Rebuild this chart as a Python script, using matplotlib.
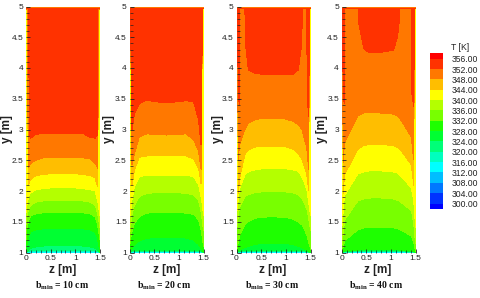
import numpy as np
import matplotlib
matplotlib.use("Agg")
import matplotlib.pyplot as plt
from matplotlib.ticker import MultipleLocator

levels = list(range(300, 360, 4))
band_colors = ['#0000ff', '#0032ff', '#0078ff', '#00beff', '#00ffff', '#00ffbe', '#00ff78', '#00ff32',
               '#1eff00', '#78ff00', '#b4ff00', '#ffff00', '#ffbe00', '#ff7800', '#ff3200', '#ff0000']

panel_titles = ['10 cm', '20 cm', '30 cm', '40 cm']

# isotherm temperature of every row in the tables below (bottom to top of the duct)
row_temps = [316, 320, 324, 328, 332, 336, 340, 344, 348, 352]
bottom_y, bottom_temp = 1.0, 312.5
under_top_y, under_top_temp = 4.96, 354
top_y = 5.0
top_temps = [346, 346, 343, 343]

# z stations and isotherm heights y [m]
z1 = [0, .02, .05, .07, .1, .2, .35, .5, .75, 1.0, 1.15, 1.3, 1.4, 1.44, 1.45, 1.48, 1.5]
y1 = [
    [1.0, 1.005, 1.01, 1.012, 1.015, 1.015, 1.015, 1.015, 1.015, 1.015, 1.015, 1.015, 1.015, 1.01, 1.01, 1.005, 1.0],
    [1.0, 1.01, 1.02, 1.025, 1.03, 1.035, 1.04, 1.04, 1.04, 1.04, 1.04, 1.035, 1.03, 1.02, 1.02, 1.01, 1.0],
    [1.0, 1.02, 1.04, 1.055, 1.07, 1.09, 1.105, 1.11, 1.11, 1.11, 1.105, 1.09, 1.07, 1.045, 1.04, 1.02, 1.0],
    [1.02, 1.12, 1.25, 1.30, 1.34, 1.37, 1.385, 1.39, 1.39, 1.39, 1.385, 1.37, 1.33, 1.25, 1.22, 1.1, 1.02],
    [1.2, 1.39, 1.5, 1.56, 1.6, 1.63, 1.645, 1.65, 1.65, 1.65, 1.645, 1.63, 1.58, 1.48, 1.45, 1.3, 1.2],
    [1.45, 1.58, 1.69, 1.74, 1.77, 1.82, 1.84, 1.85, 1.85, 1.85, 1.84, 1.82, 1.77, 1.67, 1.64, 1.5, 1.4],
    [1.65, 1.77, 1.9, 1.94, 1.97, 2.02, 2.04, 2.05, 2.05, 2.05, 2.04, 2.02, 2.0, 1.88, 1.85, 1.7, 1.6],
    [4.96, 4.96, 2.10, 2.15, 2.19, 2.25, 2.27, 2.28, 2.28, 2.28, 2.27, 2.25, 2.21, 2.1, 2.07, 4.96, 4.96],
    [4.96, 4.96, 2.38, 2.42, 2.45, 2.50, 2.54, 2.55, 2.55, 2.55, 2.54, 2.52, 2.45, 2.39, 2.37, 4.96, 4.96],
    [4.96, 4.96, 4.96, 2.9, 2.86, 2.92, 2.94, 2.94, 2.94, 2.94, 2.94, 2.87, 2.86, 2.9, 4.96, 4.96, 4.96],
]

z2 = [0, .02, .05, .1, .2, .35, .5, .75, 1.0, 1.15, 1.3, 1.4, 1.45, 1.48, 1.5]
y2 = [
    [1.0, 1.005, 1.01, 1.012, 1.012, 1.012, 1.012, 1.012, 1.012, 1.012, 1.012, 1.012, 1.01, 1.005, 1.0],
    [1.0, 1.01, 1.015, 1.02, 1.02, 1.02, 1.02, 1.02, 1.02, 1.02, 1.02, 1.02, 1.015, 1.01, 1.0],
    [1.0, 1.015, 1.025, 1.03, 1.035, 1.04, 1.04, 1.04, 1.04, 1.04, 1.035, 1.03, 1.025, 1.015, 1.0],
    [1.01, 1.03, 1.07, 1.12, 1.19, 1.23, 1.245, 1.25, 1.245, 1.235, 1.2, 1.13, 1.07, 1.03, 1.01],
    [1.1, 1.2, 1.34, 1.47, 1.58, 1.64, 1.65, 1.65, 1.65, 1.64, 1.62, 1.53, 1.37, 1.22, 1.1],
    [1.3, 1.39, 1.61, 1.77, 1.91, 1.96, 1.97, 1.97, 1.97, 1.96, 1.94, 1.85, 1.66, 1.5, 1.35],
    [1.55, 1.64, 1.85, 2.07, 2.23, 2.26, 2.26, 2.26, 2.26, 2.26, 2.23, 2.10, 1.91, 1.75, 1.6],
    [4.96, 4.96, 2.10, 2.34, 2.55, 2.57, 2.57, 2.57, 2.57, 2.57, 2.52, 2.37, 2.12, 4.96, 4.96],
    [4.96, 4.96, 2.42, 2.6, 2.88, 2.93, 2.92, 2.91, 2.92, 2.93, 2.83, 2.65, 2.35, 4.96, 4.96],
    [4.96, 4.96, 3.0, 3.25, 3.42, 3.48, 3.45, 3.44, 3.45, 3.47, 3.45, 3.15, 2.75, 4.96, 4.96],
]

z3 = [0, .02, .035, .055, .065, .17, .18, .24, .35, .5, .75, 1.0, 1.15, 1.25, 1.32, 1.33, 1.42, 1.43, 1.46, 1.475, 1.5]
y3 = [
    [1.0, 1.003, 1.005, 1.007, 1.008, 1.01, 1.01, 1.011, 1.012, 1.012, 1.012, 1.012, 1.012, 1.01, 1.01, 1.01, 1.007, 1.006, 1.004, 1.002, 1.0],
    [1.0, 1.006, 1.009, 1.012, 1.014, 1.018, 1.018, 1.019, 1.02, 1.02, 1.02, 1.02, 1.02, 1.018, 1.018, 1.018, 1.012, 1.011, 1.008, 1.005, 1.0],
    [1.0, 1.01, 1.014, 1.018, 1.02, 1.03, 1.03, 1.03, 1.03, 1.03, 1.03, 1.03, 1.03, 1.03, 1.03, 1.03, 1.02, 1.018, 1.013, 1.009, 1.0],
    [1.01, 1.02, 1.028, 1.035, 1.04, 1.08, 1.085, 1.1, 1.13, 1.145, 1.15, 1.145, 1.13, 1.1, 1.08, 1.075, 1.04, 1.035, 1.025, 1.018, 1.01],
    [1.05, 1.09, 1.16, 1.25, 1.28, 1.45, 1.46, 1.5, 1.55, 1.575, 1.58, 1.57, 1.54, 1.5, 1.45, 1.44, 1.29, 1.25, 1.17, 1.12, 1.05],
    [1.35, 1.47, 1.58, 1.71, 1.74, 1.91, 1.92, 1.94, 1.97, 1.985, 1.99, 1.985, 1.97, 1.94, 1.88, 1.87, 1.71, 1.67, 1.55, 1.48, 1.35],
    [1.6, 1.75, 1.85, 2.0, 2.05, 2.26, 2.27, 2.31, 2.34, 2.36, 2.37, 2.36, 2.34, 2.32, 2.23, 2.22, 2.03, 1.97, 1.82, 1.72, 1.6],
    [4.96, 4.96, 1.96, 2.15, 2.22, 2.59, 2.61, 2.66, 2.71, 2.73, 2.73, 2.72, 2.68, 2.61, 2.52, 2.5, 2.27, 2.2, 2.0, 4.96, 4.96],
    [4.96, 4.96, 2.5, 2.7, 2.76, 3.0, 3.02, 3.1, 3.15, 3.18, 3.18, 3.17, 3.13, 3.08, 3.0, 2.98, 2.7, 2.6, 2.35, 4.96, 4.96],
    [4.96, 4.96, 3.6, 3.4, 4.96, 4.96, 4.4, 3.97, 3.92, 3.9, 3.9, 3.9, 3.9, 3.97, 4.4, 4.96, 4.96, 3.5, 3.2, 4.96, 4.96],
]

z4 = [0, .015, .03, .05, .06, .33, .35, .45, .54, .75, 1.05, 1.13, 1.16, 1.18, 1.41, 1.42, 1.46, 1.475, 1.5]
y4 = [
    [1.0, 1.002, 1.003, 1.005, 1.006, 1.01, 1.01, 1.01, 1.01, 1.01, 1.01, 1.01, 1.01, 1.01, 1.006, 1.006, 1.004, 1.002, 1.0],
    [1.0, 1.003, 1.006, 1.01, 1.012, 1.018, 1.018, 1.018, 1.018, 1.018, 1.018, 1.018, 1.018, 1.018, 1.012, 1.012, 1.008, 1.004, 1.0],
    [1.0, 1.005, 1.01, 1.015, 1.018, 1.028, 1.028, 1.03, 1.03, 1.03, 1.03, 1.028, 1.028, 1.028, 1.02, 1.018, 1.012, 1.006, 1.0],
    [1.005, 1.008, 1.015, 1.022, 1.025, 1.04, 1.042, 1.05, 1.05, 1.05, 1.05, 1.045, 1.042, 1.04, 1.03, 1.028, 1.02, 1.01, 1.005],
    [1.02, 1.04, 1.09, 1.16, 1.19, 1.37, 1.375, 1.4, 1.405, 1.41, 1.4, 1.39, 1.38, 1.37, 1.27, 1.25, 1.16, 1.1, 1.02],
    [1.1, 1.17, 1.3, 1.47, 1.53, 1.84, 1.845, 1.87, 1.885, 1.89, 1.87, 1.85, 1.84, 1.83, 1.68, 1.65, 1.47, 1.31, 1.15],
    [1.4, 1.47, 1.68, 1.88, 1.93, 2.28, 2.285, 2.31, 2.325, 2.33, 2.31, 2.29, 2.275, 2.26, 2.05, 2.01, 1.85, 1.67, 1.4],
    [4.96, 4.96, 1.95, 2.18, 2.27, 2.68, 2.69, 2.74, 2.755, 2.76, 2.74, 2.71, 2.69, 2.68, 2.43, 2.37, 2.09, 4.96, 4.96],
    [4.96, 4.96, 2.45, 2.72, 2.8, 3.22, 3.23, 3.27, 3.27, 3.27, 3.25, 3.22, 3.2, 3.18, 2.88, 2.8, 2.5, 4.96, 4.96],
    [4.96, 4.96, 3.6, 3.42, 4.96, 4.96, 4.7, 4.31, 4.26, 4.25, 4.29, 4.5, 4.7, 4.96, 4.96, 3.6, 3.37, 4.96, 4.96],
]

W, H = 480, 298
plt.rcParams['font.family'] = ['Liberation Sans', 'DejaVu Sans']
plt.rcParams['mathtext.fontset'] = 'custom'
plt.rcParams['mathtext.bf'] = 'Liberation Serif:bold'
plt.rcParams['mathtext.rm'] = 'Liberation Serif:bold'

fig = plt.figure(figsize=(W / 100, H / 100), dpi=100)


def px_axes(left, top, right, bottom):
    return fig.add_axes([left / W, 1 - bottom / H, (right - left) / W, (bottom - top) / H])


def draw_panel(left, right, z, table, top_temp, ylabel_x, xlabel_x, title_x, title):
    ax = px_axes(left, 6.5, right, 252.5)
    n = len(z)
    ys = [[bottom_y] * n] + table + [[under_top_y] * n, [top_y] * n]
    temps = [bottom_temp] + row_temps + [under_top_temp, top_temp]
    Z = np.array([z] * len(ys))
    Y = np.array(ys)
    T = np.array([[t] * n for t in temps])
    cs = ax.contourf(Z, Y, T, levels=levels, colors=band_colors, extend='both')
    ax.set_xlim(0, 1.5)
    ax.set_ylim(1, 5)
    for s in ax.spines.values():
        s.set_visible(False)
    ax.xaxis.set_minor_locator(MultipleLocator(0.1))
    ax.yaxis.set_minor_locator(MultipleLocator(0.1))
    ax.set_xticks([0, 0.5, 1, 1.5])
    ax.set_xticklabels(['0', '0.5', '1', '1.5'])
    ax.set_yticks([1, 1.5, 2, 2.5, 3, 3.5, 4, 4.5, 5])
    ax.set_yticklabels(['1', '1.5', '2', '2.5', '3', '3.5', '4', '4.5', '5'])
    ax.tick_params(which='major', direction='in', length=3, width=0.6, labelsize=6, pad=2,
                   color='#222222', labelcolor='#222222')
    ax.tick_params(which='minor', direction='in', length=2, width=0.5, color='#222222')
    fig.text(ylabel_x / W, 1 - 129.5 / H, 'y [m]', rotation=90, ha='center', va='center',
             fontsize=8.5, fontweight='bold', color='#222222')
    fig.text(xlabel_x / W, 1 - 270 / H, 'z [m]', ha='center', va='center',
             fontsize=8.5, fontweight='bold', color='#222222')
    fig.text(title_x / W, 1 - 286 / H, r'$\mathrm{b_{min}}$ = ' + title, ha='center', va='center',
             fontsize=7, fontweight='bold', family='Liberation Serif', color='#111111')
    return cs


cs = draw_panel(26, 100, z1, y1, top_temps[0], 7, 63, 62, panel_titles[0])
draw_panel(129.5, 203.5, z2, y2, top_temps[1], 109, 167, 164, panel_titles[1])
draw_panel(236.5, 310.7, z3, y3, top_temps[2], 218, 273, 272, panel_titles[2])
draw_panel(341.7, 415.7, z4, y4, top_temps[3], 322, 378, 376, panel_titles[3])

cax = px_axes(430, 53.3, 443, 209)
cb = fig.colorbar(cs, cax=cax, extend='both', extendrect=True, extendfrac=0.038, drawedges=False)
cb.outline.set_visible(False)
cb.set_ticks(levels)
cb.set_ticklabels(['%.2f' % v for v in levels])
cb.ax.tick_params(length=0, labelsize=6.2, pad=6.5, labelcolor='#222222')
fig.text(460 / W, 1 - 48 / H, 'T [K]', ha='center', va='center', fontsize=6.2, color='#222222')

fig.savefig('out.png', dpi=100)
